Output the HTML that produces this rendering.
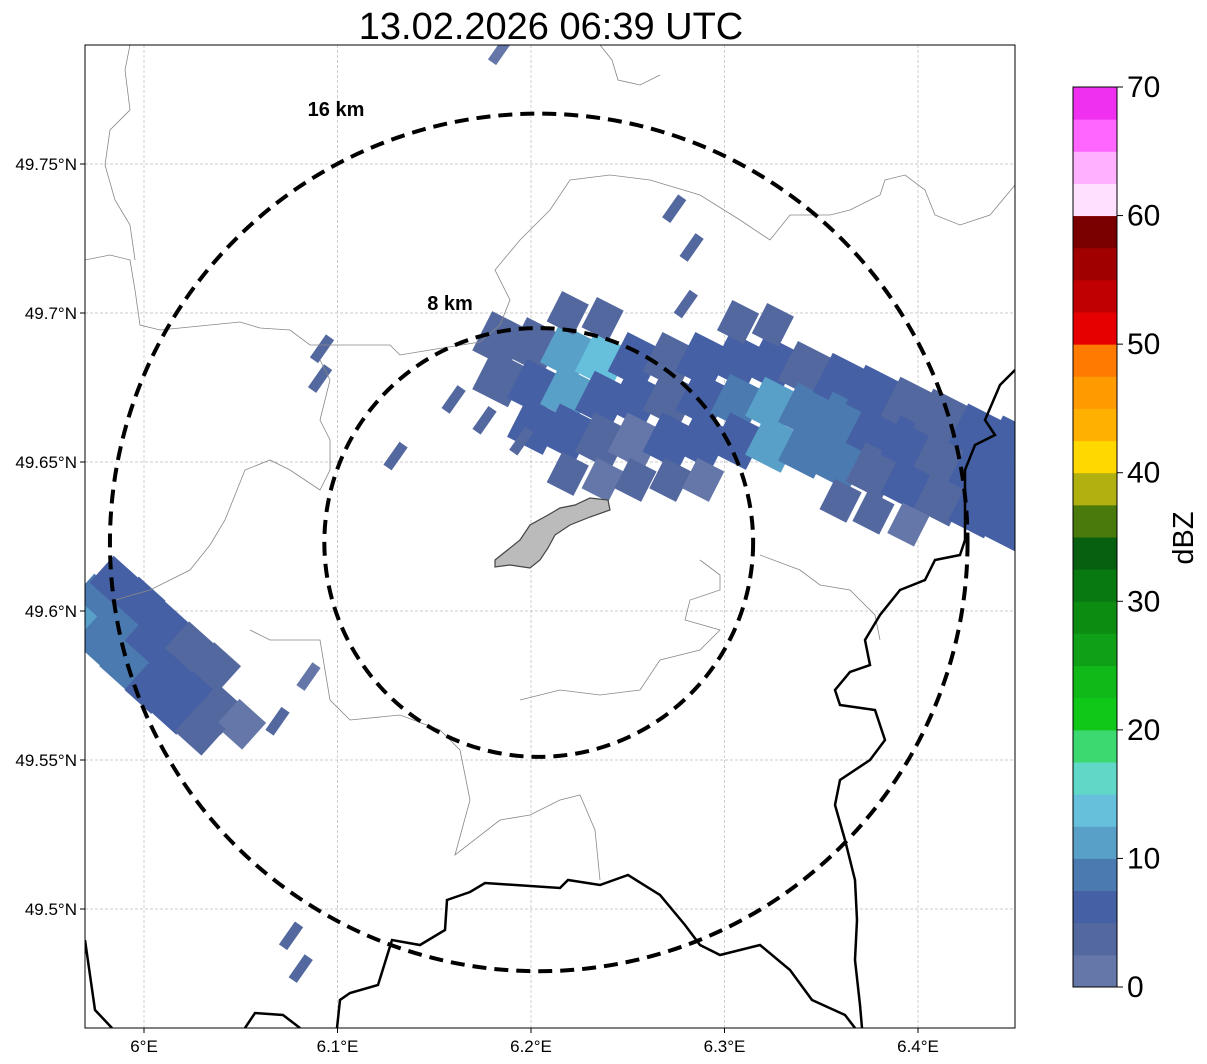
<!DOCTYPE html>
<html><head><meta charset="utf-8"><style>
html,body{margin:0;padding:0;background:#fff;}
svg{display:block;font-family:"Liberation Sans","DejaVu Sans",sans-serif;}
</style></head><body>
<svg id="chart" width="1207" height="1064" viewBox="0 0 1207 1064">
<defs><clipPath id="mapclip"><rect x="85" y="45" width="930" height="983"/></clipPath></defs>
<text x="551" y="39" font-size="38" text-anchor="middle">13.02.2026 06:39 UTC</text>
<rect x="85" y="45" width="930" height="983" fill="#fff"/>
<g id="grid"></g>
<g clip-path="url(#mapclip)">
 <g id="radar"></g>
 <g fill="none" stroke="#888" stroke-width="0.8">
  <path d="M85,260 L110,255 L130,260 L135,290 L140,325 L160,330 L210,325 L240,322 L260,328 L290,330 L310,345 L350,345 L390,345 L400,355 L430,350 L480,342 L500,325 L510,300 L495,270 L520,240 L550,210 L570,180 L610,175 L650,180 L700,195 L740,220 L770,240 L790,215 L830,215 L850,210 L880,195 L885,180 L905,175 L925,190 L935,215 L960,225 L990,215 L1015,185"/>
  <path d="M130,45 L125,70 L130,110 L110,130 L105,165 L115,200 L130,225 L135,260"/>
  <path d="M600,45 L612,60 L618,80 L640,85 L660,75"/>
  <path d="M320,360 L330,380 L320,420 L330,440 L330,470 L320,490 L290,470 L270,460 L245,470 L225,520 L210,545 L190,570 L150,590 L115,600"/>
  <path d="M250,630 L270,640 L320,640 L330,700 L350,720 L400,715 L440,730 L460,750 L470,800 L455,855 L500,820 L530,815 L560,800 L580,795 L595,830 L600,880"/>
  <path d="M700,560 L720,575 L720,590 L690,600 L685,620 L720,630 L700,650 L660,660 L640,690 L600,695 L560,690 L520,700"/>
  <path d="M760,555 L800,570 L820,585 L850,590 L875,615 L880,640"/>
 </g>
 <g fill="none" stroke="#000" stroke-width="2.5">
  <path d="M1015,370 L1000,385 L985,420 L995,435 L975,445 L965,470 L965,540 L960,555 L935,560 L925,580 L900,590 L880,615 L865,640 L870,665 L850,672 L835,690 L840,705 L875,710 L885,740 L870,760 L840,780 L835,805 L845,840 L855,880 L857,920 L855,960 L860,1005 L862,1028"/>
  <path d="M85,940 L95,1010 L112,1028"/>
  <path d="M245,1028 L255,1013 L283,1015 L300,1028"/>
  <path d="M337,1028 L340,1000 L350,993 L378,985 L392,940 L420,945 L445,930 L447,900 L470,892 L485,883 L560,888 L568,880 L600,885 L628,875 L660,895 L685,925 L700,945 L720,955 L760,945 L790,970 L812,1000 L845,1015 L855,1028"/>
 </g>
 <path d="M495,560 L520,540 L530,525 L548,515 L560,508 L575,505 L590,498 L608,500 L610,510 L590,517 L570,525 L555,535 L548,548 L540,560 L530,568 L510,565 L495,567 Z" fill="#bbb" stroke="#444" stroke-width="1.2"/>
 <g id="rings" fill="none" stroke="#000" stroke-width="4" stroke-dasharray="14,8"></g>
</g>
<text x="336" y="116" font-size="20" font-weight="bold" text-anchor="middle">16 km</text>
<text x="450" y="310" font-size="20" font-weight="bold" text-anchor="middle">8 km</text>
<rect x="85" y="45" width="930" height="983" fill="none" stroke="#000" stroke-width="1"/>
<g id="axes" font-size="17"></g>
<g id="cbar"></g>
<text transform="translate(1193,538) rotate(-90)" font-size="29" text-anchor="middle">dBZ</text>
</svg>
<script>
const NS="http://www.w3.org/2000/svg";
const lonTicks=[6.0,6.1,6.2,6.3,6.4];
const lonTickLabels=["6°E","6.1°E","6.2°E","6.3°E","6.4°E"];
const latTicks=[49.75,49.7,49.65,49.6,49.55,49.5];
const latTickLabels=["49.75°N","49.7°N","49.65°N","49.6°N","49.55°N","49.5°N"];
const cbarTicks=[0,10,20,30,40,50,60,70];
const cbarColors=["#6577a8","#5468a0","#4560a4","#4a7ab0","#58a0c8","#66c0dc","#60d8c8","#3cd870","#10c818","#10b818","#10a018","#0c8c10","#087810","#066010","#4a7a0c","#b0b010","#ffd800","#ffb000","#ff9a00","#ff7a00","#e60000","#c00000","#a00000","#7a0000","#ffe0ff","#ffb0ff","#ff66ff","#f030f0"];
const bandLon=[6.184,6.202,6.219,6.237,6.254,6.272,6.289,6.307,6.325,6.342,6.360,6.377,6.395,6.412,6.430,6.448];
const bandLatTop=[49.691,49.689,49.687,49.684,49.684,49.684,49.684,49.684,49.683,49.681,49.677,49.673,49.669,49.665,49.660,49.656];
const bandLatMid=[49.678,49.675,49.673,49.671,49.671,49.671,49.671,49.670,49.669,49.667,49.664,49.660,49.656,49.652,49.647,49.642];
const bandLatBot=[49.664,49.662,49.660,49.657,49.657,49.657,49.657,49.657,49.656,49.654,49.650,49.647,49.643,49.638,49.634,49.629];
const bandTop=[3,4,12,13,5,4,6,6,5,4,7,5,4,3,6,7];
const bandMid=[4,5,10,6,5,4,7,9,11,9,8,6,5,4,7,5];
const bandBot=[null,7,5,4,2,5,6,7,10,9,9,4,5,4,5,6];
const extraLon=[6.219,6.237,6.254,6.272,6.289,6.360,6.377,6.395,6.219,6.237,6.307,6.325];
const extraLat=[49.646,49.644,49.644,49.644,49.644,49.637,49.633,49.629,49.700,49.698,49.697,49.696];
const extraVal=[3,2,3,4,2,3,4,2,4,3,3,4];
const leftLon=[5.975,5.988,6.001,6.013,6.026,6.039,6.050,5.985,5.998,6.011,6.024,6.037,5.964,5.977,5.990,6.003,6.016,6.029];
const leftLat=[49.604,49.596,49.589,49.581,49.573,49.567,49.562,49.610,49.603,49.595,49.588,49.581,49.597,49.590,49.582,49.574,49.567,49.560];
const leftVal=[9,8,6,5,7,4,2,5,6,5,4,3,11,8,9,6,5,4];
const streakLon=[6.274,6.283,6.184,6.092,6.091,6.160,6.130,6.176,6.195,6.085,6.069,6.076,6.081,6.280];
const streakLat=[49.735,49.722,49.788,49.688,49.678,49.671,49.652,49.664,49.657,49.578,49.563,49.491,49.480,49.703];
const streakVal=[3,3,2,3,3,3,3,3,3,2,3,3,3,3];
const ringRadiiKm=[8,16];
const ringLabels=["8 km","16 km"];
const centerLon=6.204, centerLat=49.623;

function xOf(lon){return 144+(lon-6.0)*1935;}
function yOf(lat){return 164+(49.75-lat)*2980;}
function colorOf(v){return cbarColors[Math.max(0,Math.min(27,Math.floor(v/2.5)))];}
const cbarY0=987,cbarY1=87;
function cbY(v){return cbarY0+(cbarY1-cbarY0)*v/70;}
function mk(tag,attrs,parent){const e=document.createElementNS(NS,tag);for(const k in attrs)e.setAttribute(k,attrs[k]);parent.appendChild(e);return e;}

const grid=document.getElementById('grid');
lonTicks.forEach(t=>{const l=mk('line',{x1:xOf(t),x2:xOf(t),y1:45,y2:1028,stroke:'#bbb','stroke-width':0.7,'stroke-dasharray':'3,2'},grid);

});
latTicks.forEach(t=>{const l=mk('line',{x1:85,x2:1015,y1:yOf(t),y2:yOf(t),stroke:'#bbb','stroke-width':0.7,'stroke-dasharray':'3,2'},grid);

});

const radar=document.getElementById('radar');
function cell(lon,lat,v,w,h,rot,name){if(v===null)return;const cx=xOf(lon),cy=yOf(lat);
const r=mk('rect',{x:cx-w/2,y:cy-h/2,width:w,height:h,fill:colorOf(v),transform:`rotate(${rot} ${cx} ${cy})`},radar);

}
bandLon.forEach((lon,i)=>{cell(lon,bandLatTop[i],bandTop[i],40,44,27,'reflectivity-cell');cell(lon,bandLatMid[i],bandMid[i],40,44,27,'reflectivity-cell');cell(lon,bandLatBot[i],bandBot[i],40,44,27,'reflectivity-cell');});
extraLon.forEach((lon,i)=>cell(lon,extraLat[i],extraVal[i],30,34,27,'reflectivity-cell'));
leftLon.forEach((lon,i)=>cell(lon,leftLat[i],leftVal[i],36,36,42,'reflectivity-cell'));
streakLon.forEach((lon,i)=>cell(lon,streakLat[i],streakVal[i],10,28,35,'reflectivity-streak'));

const rings=document.getElementById('rings');
ringRadiiKm.forEach((km,i)=>{const r=km*26.8;const e=mk('ellipse',{cx:xOf(centerLon),cy:yOf(centerLat),rx:r,ry:r},rings);

});

const axes=document.getElementById('axes');
lonTicks.forEach((t,i)=>{const tk=mk('line',{x1:xOf(t),x2:xOf(t),y1:1028,y2:1033,stroke:'#000'},axes);


const tx=mk('text',{x:xOf(t),y:1052,'text-anchor':'middle'},axes);tx.textContent=lonTickLabels[i];

});
latTicks.forEach((t,i)=>{const tk=mk('line',{x1:80,x2:85,y1:yOf(t),y2:yOf(t),stroke:'#000'},axes);


const tx=mk('text',{x:77,y:yOf(t)+6,'text-anchor':'end'},axes);tx.textContent=latTickLabels[i];

});

const cbar=document.getElementById('cbar');
cbarColors.forEach((c,i)=>{const y0=cbY(i*2.5),y1=cbY((i+1)*2.5);
const r=mk('rect',{x:1073,y:y1,width:44,height:y0-y1+0.5,fill:c},cbar);

});
const fr=mk('rect',{x:1073,y:87,width:44,height:900,fill:'none',stroke:'#000','stroke-width':1},cbar);


cbarTicks.forEach(t=>{const tk=mk('line',{x1:1117,x2:1123,y1:cbY(t),y2:cbY(t),stroke:'#000'},cbar);


const tx=mk('text',{x:1127,y:cbY(t)+10,'font-size':30},cbar);tx.textContent=t;

});
</script>
</body></html>
